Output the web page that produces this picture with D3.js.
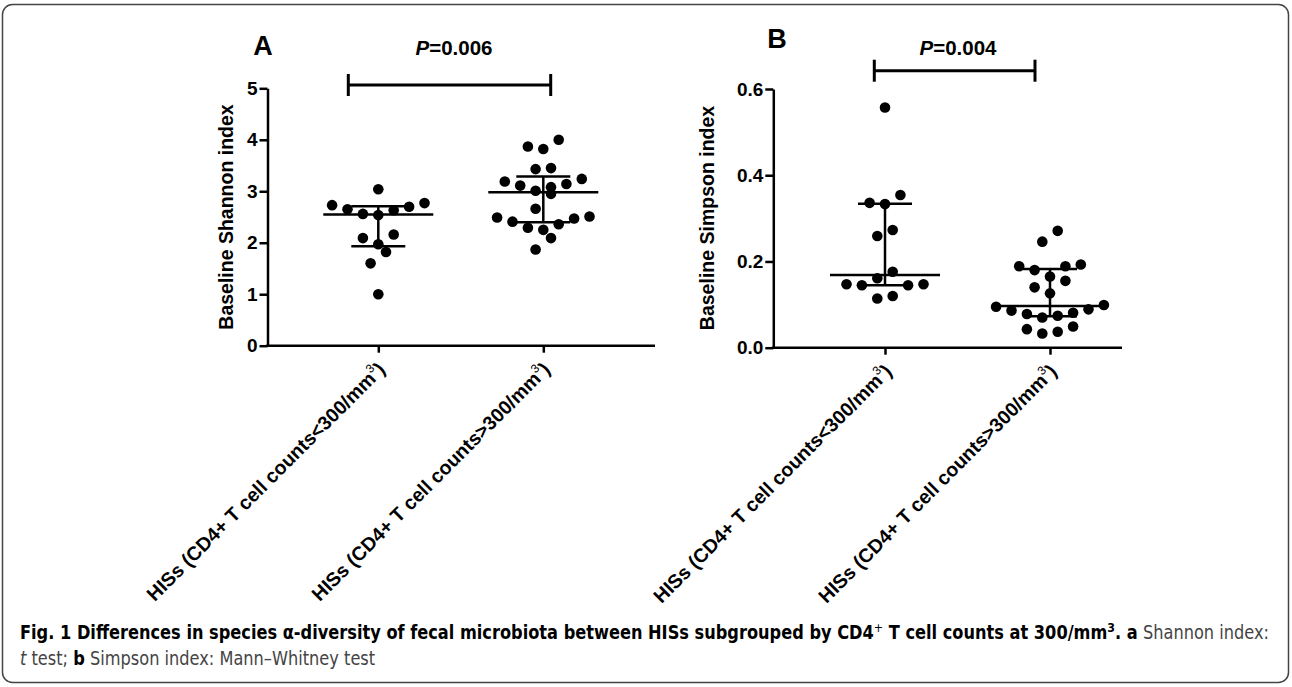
<!DOCTYPE html>
<html>
<head>
<meta charset="utf-8">
<script src="https://cdn.jsdelivr.net/npm/d3@7"></script>
<style>
  body { margin: 0; background: #fff; }
  svg { display: block; font-family: "Liberation Sans", Arial, sans-serif; }
</style>
</head>
<body>
<svg id="fig" width="1292" height="687"></svg>
<script>
// categories (the trailing superscript "3" and ")" are added when drawn)
const CATEGORIES = ["HISs (CD4+ T cell counts<300/mm", "HISs (CD4+ T cell counts>300/mm"];
const CATEGORY_SUP = "3";

// baseline Shannon index per subject
const SHANNON_LOW = [3.04, 2.73, 2.65, 2.56, 2.54, 2.63, 2.70, 2.77, 2.16, 2.09, 1.97, 1.82, 1.60, 1.00];
const SHANNON_HIGH = [4.00, 3.87, 3.82, 3.43, 3.45, 3.24, 3.19, 3.14, 3.11, 3.08, 3.01, 2.95, 2.66,
  2.49, 2.51, 2.47, 2.41, 2.36, 2.29, 2.25, 2.09, 1.87];

// baseline Simpson index per subject
const SIMPSON_LOW = [0.557, 0.354, 0.336, 0.333, 0.273, 0.259, 0.176, 0.161, 0.147, 0.147, 0.145, 0.145, 0.120, 0.114];
const SIMPSON_HIGH = [0.271, 0.246, 0.193, 0.189, 0.189, 0.180, 0.165, 0.155, 0.140, 0.126, 0.099, 0.095,
  0.089, 0.086, 0.081, 0.078, 0.074, 0.070, 0.049, 0.043, 0.037, 0.033];

const SHANNON_TICKS = [0, 1, 2, 3, 4, 5];
const SIMPSON_TICKS = [0, 0.2, 0.4, 0.6];
const PANEL_LETTERS = ["A", "B"];
const Y_TITLES = ["Baseline Shannon index", "Baseline Simpson index"];
const P_VALUES = ["0.006", "0.004"];

const DOT_R = 5.3;
const DOT_STEP = 15.4;   // horizontal spacing of dots in a row
const GROUP_PX = 15.5;   // dots closer than this vertically share a row
const MED_HALF = 55;
const QUART_HALF = 27;

const svg = d3.select("#fig");

svg.append("rect")
    .attr("x", 2.5).attr("y", 4.5)
    .attr("width", 1286).attr("height", 678)
    .attr("rx", 10)
    .attr("fill", "none")
    .attr("stroke", "#444")
    .attr("stroke-width", 1.5);

const panels = [
  {
    letter: PANEL_LETTERS[0], title: Y_TITLES[0], p: P_VALUES[0],
    groups: [SHANNON_LOW, SHANNON_HIGH], ticks: SHANNON_TICKS, domain: [0, 5], fmt: d3.format("d"),
    axisX: 267.5, yTop: 88.3, yBottom: 345.7, xEnd: 655, catX: [378.3, 543.3],
    bracketY: 85, bracketPad: [-30, 7.4], letterX: 263, letterY: 55, pX: 454, titleX: 233, titleY: 217
  },
  {
    letter: PANEL_LETTERS[1], title: Y_TITLES[1], p: P_VALUES[1],
    groups: [SIMPSON_LOW, SIMPSON_HIGH], ticks: SIMPSON_TICKS, domain: [0, 0.6], fmt: d3.format(".1f"),
    axisX: 773.3, yTop: 89, yBottom: 347.7, xEnd: 1122, catX: [885, 1050],
    bracketY: 70.7, bracketPad: [-10.7, -15], letterX: 777, letterY: 48, pX: 958, titleX: 714, titleY: 218
  }
];

// quartile as GraphPad computes it: position p*(n+1)
function quartile(values, p) {
  const s = values.slice().sort(d3.ascending);
  const pos = p * (s.length + 1) - 1;
  const lo = Math.max(0, Math.floor(pos));
  const hi = Math.min(s.length - 1, lo + 1);
  return s[lo] + (pos - lo) * (s[hi] - s[lo]);
}

// rows of dots, spread sideways from the centre
function swarm(values, y, cx) {
  const sorted = values.slice().sort(d3.ascending);
  const rows = [];
  let cur = null;
  sorted.forEach(v => {
    if (!cur || y(cur[0]) - y(v) >= GROUP_PX) { cur = [v]; rows.push(cur); }
    else cur.push(v);
  });
  const out = [];
  rows.forEach(row => {
    const n = row.length;
    row.forEach((v, i) => {
      let slot;
      if (n % 2) slot = i === 0 ? 0 : Math.ceil(i / 2) * (i % 2 ? -1 : 1);
      else slot = (Math.floor(i / 2) + 0.5) * (i % 2 ? 1 : -1);
      out.push({ v: v, x: cx + slot * DOT_STEP, y: y(v) });
    });
  });
  return out;
}

function drawPanel(p) {
  const g = svg.append("g");
  const y = d3.scaleLinear().domain(p.domain).range([p.yBottom, p.yTop]);
  const x = d3.scalePoint().domain(CATEGORIES).range(p.catX);

  // y axis
  const yAxis = g.append("g")
      .attr("transform", `translate(${p.axisX},0)`)
      .call(d3.axisLeft(y).tickValues(p.ticks).tickFormat(p.fmt)
        .tickSize(8).tickPadding(2).tickSizeOuter(0));
  yAxis.selectAll("path, line").attr("stroke", "#000").attr("stroke-width", 2.5);
  yAxis.selectAll("text")
      .attr("fill", "#000")
      .style("font-size", "19px")
      .style("font-weight", "bold")
      .style("font-family", "'Liberation Sans', Arial, sans-serif");

  // x axis
  g.append("line")
      .attr("x1", p.axisX - 1.25).attr("x2", p.xEnd)
      .attr("y1", p.yBottom).attr("y2", p.yBottom)
      .attr("stroke", "#000").attr("stroke-width", 2.5);
  const xAxis = g.append("g")
      .attr("transform", `translate(0,${p.yBottom})`)
      .call(d3.axisBottom(x).tickSize(7).tickFormat(""));
  xAxis.select(".domain").remove();
  xAxis.selectAll("line").attr("stroke", "#000").attr("stroke-width", 2.5);

  // rotated category labels
  CATEGORIES.forEach(c => {
    const t = g.append("text")
        .attr("transform", `translate(${x(c) + 8},${p.yBottom + 25}) rotate(-45)`)
        .attr("text-anchor", "end")
        .style("font-size", "19.5px")
        .style("font-weight", "bold")
        .attr("fill", "#000");
    t.append("tspan").text(c);
    t.append("tspan").attr("dy", -9).style("font-size", "12px").style("font-weight", "normal").text(CATEGORY_SUP);
    t.append("tspan").attr("dy", 9).text(")");
  });

  // y title
  g.append("text")
      .attr("transform", `translate(${p.titleX},${p.titleY}) rotate(-90)`)
      .attr("text-anchor", "middle")
      .style("font-size", "19.5px")
      .style("font-weight", "bold")
      .text(p.title);

  // dots and median with interquartile range
  p.groups.forEach((vals, gi) => {
    const cx = x(CATEGORIES[gi]);
    g.append("g").selectAll("circle")
      .data(swarm(vals, y, cx))
      .enter().append("circle")
        .attr("cx", d => d.x)
        .attr("cy", d => d.y)
        .attr("r", DOT_R)
        .attr("fill", "#000");

    const med = d3.median(vals);
    const q1 = quartile(vals, 0.25);
    const q3 = quartile(vals, 0.75);
    const stats = g.append("g").attr("stroke", "#000").attr("stroke-width", 2.5);
    stats.append("line").attr("x1", cx).attr("x2", cx).attr("y1", y(q1)).attr("y2", y(q3));
    stats.append("line").attr("x1", cx - MED_HALF).attr("x2", cx + MED_HALF).attr("y1", y(med)).attr("y2", y(med));
    [q1, q3].forEach(q => {
      stats.append("line").attr("x1", cx - QUART_HALF).attr("x2", cx + QUART_HALF).attr("y1", y(q)).attr("y2", y(q));
    });
  });

  // significance bracket
  const bx1 = x(CATEGORIES[0]) + p.bracketPad[0];
  const bx2 = x(CATEGORIES[1]) + p.bracketPad[1];
  const br = g.append("g").attr("stroke", "#000").attr("stroke-width", 3);
  br.append("line").attr("x1", bx1).attr("x2", bx2).attr("y1", p.bracketY).attr("y2", p.bracketY);
  [bx1, bx2].forEach(bx => {
    br.append("line").attr("x1", bx).attr("x2", bx).attr("y1", p.bracketY - 11).attr("y2", p.bracketY + 11);
  });

  const pt = g.append("text")
      .attr("x", p.pX).attr("y", 55)
      .attr("text-anchor", "middle")
      .style("font-size", "20.5px")
      .style("font-weight", "bold");
  pt.append("tspan").style("font-style", "italic").text("P");
  pt.append("tspan").text("=" + p.p);

  g.append("text")
      .attr("x", p.letterX).attr("y", p.letterY)
      .attr("text-anchor", "middle")
      .style("font-size", "27px")
      .style("font-weight", "bold")
      .text(p.letter);
}

panels.forEach(drawPanel);

// caption
const cap = svg.append("g")
    .style("font-family", "'DejaVu Sans Condensed', 'Liberation Sans Narrow', 'Liberation Sans', sans-serif")
    .style("font-size", "19px");

const line1 = cap.append("text").attr("x", 0).attr("y", 0);
line1.append("tspan").style("font-weight", "bold").attr("fill", "#000")
    .text("Fig. 1 Differences in species \u03b1-diversity of fecal microbiota between HISs subgrouped by CD4");
line1.append("tspan").attr("dy", -7).style("font-size", "13px").attr("fill", "#000").text("+");
line1.append("tspan").attr("dy", 7).style("font-weight", "bold").attr("fill", "#000").text(" T cell counts at 300/mm");
line1.append("tspan").attr("dy", -7).style("font-size", "13px").style("font-weight", "bold").attr("fill", "#000").text("3");
line1.append("tspan").attr("dy", 7).style("font-weight", "bold").attr("fill", "#000").text(". a");
line1.append("tspan").attr("fill", "#444").text(" Shannon index:");

const line2 = cap.append("text").attr("x", 0).attr("y", 26);
line2.append("tspan").style("font-style", "italic").attr("fill", "#444").text("t");
line2.append("tspan").attr("fill", "#444").text(" test; ");
line2.append("tspan").style("font-weight", "bold").attr("fill", "#000").text("b");
line2.append("tspan").attr("fill", "#444").text(" Simpson index: Mann\u2013Whitney test");

const w1 = line1.node().getBBox().width;
const sx = 1250 / w1;
cap.attr("transform", `translate(20,639) scale(${sx},1)`);
</script>
</body>
</html>
